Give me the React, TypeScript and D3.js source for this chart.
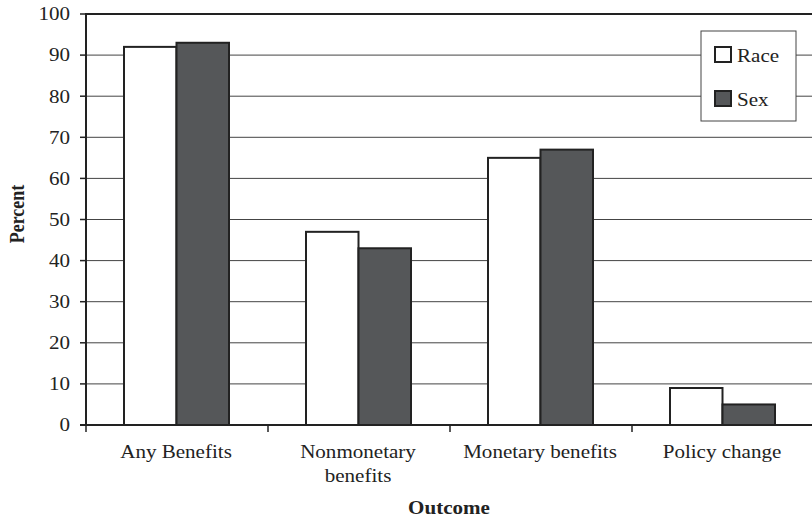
import * as d3 from "d3";

const categories = [["Any Benefits"], ["Nonmonetary", "benefits"], ["Monetary benefits"], ["Policy change"]];
const seriesNames = ["Race", "Sex"];
const raceValues = [92, 47, 65, 9];
const sexValues = [93, 43, 67, 5];
const yTicks = [0, 10, 20, 30, 40, 50, 60, 70, 80, 90, 100];

const colors = ["#ffffff", "#555759"];
const width = 812;
const height = 519;
const marginLeft = 86;
const marginTop = 14;
const plotBottom = 425;
const font = "Liberation Serif";
const fs = 18;
const sx = 1.17;

function T({ x, y, anchor = "start", bold = false, dy, children }: any) {
  return (
    <text
      transform={`translate(${x},${y}) scale(${sx},1)`}
      textAnchor={anchor}
      fontWeight={bold ? "bold" : "normal"}
      dy={dy}
    >
      {children}
    </text>
  );
}

export default function App() {
  const keys = categories.map((c) => c.join(" "));
  const x0 = d3.scaleBand().domain(keys).range([marginLeft, marginLeft + 182 * 4]);
  const x1 = d3.scaleBand().domain(seriesNames).range([38, 143]);
  const y = d3.scaleLinear().domain([0, 100]).range([plotBottom, marginTop]);
  const values = [raceValues, sexValues];

  return (
    <svg width={width} height={height} style={{ position: "absolute", left: 0, top: 0 }}>
      <rect width={width} height={height} fill="#fff" />
      {yTicks.slice(1, -1).map((t) => (
        <line key={t} x1={marginLeft} x2={width} y1={y(t)} y2={y(t)} stroke="#444" strokeWidth={1} />
      ))}
      <line x1={marginLeft} x2={width} y1={y(100)} y2={y(100)} stroke="#222" strokeWidth={2} />
      {keys.map((k, i) =>
        seriesNames.map((s, j) => (
          <rect
            key={k + s}
            x={(x0(k) ?? 0) + (x1(s) ?? 0)}
            y={y(values[j][i])}
            width={x1.bandwidth()}
            height={plotBottom - y(values[j][i])}
            fill={colors[j]}
            stroke="#222"
            strokeWidth={2}
          />
        ))
      )}
      <line x1={marginLeft} x2={marginLeft} y1={marginTop - 1} y2={plotBottom + 1} stroke="#222" strokeWidth={2} />
      <line x1={marginLeft - 6} x2={width} y1={plotBottom} y2={plotBottom} stroke="#222" strokeWidth={2} />
      <g fontFamily={font} fill="#222" fontSize={fs}>
        {yTicks.map((t) => (
          <g key={t}>
            <line x1={marginLeft - 6} x2={marginLeft} y1={y(t)} y2={y(t)} stroke="#222" strokeWidth={1.5} />
            <T x={marginLeft - 16} y={y(t)} dy="0.35em" anchor="end">
              {t}
            </T>
          </g>
        ))}
        {keys.map((k) => (
          <line key={k} x1={x0(k)} x2={x0(k)} y1={plotBottom} y2={plotBottom + 7} stroke="#222" strokeWidth={1.5} />
        ))}
        {categories.map((lines, i) =>
          lines.map((l, li) => (
            <T key={i + "-" + li} x={(x0(keys[i]) ?? 0) + x0.bandwidth() / 2 - 1} y={458 + li * 24} anchor="middle">
              {l}
            </T>
          ))
        )}
        <T x={449} y={514} anchor="middle" bold>
          Outcome
        </T>
        <text
          transform={`translate(24,214) scale(${sx},1) rotate(-90)`}
          textAnchor="middle"
          fontWeight="bold"
        >
          Percent
        </text>
        <g transform="translate(701,31)">
          <rect width={95} height={90} fill="#fff" stroke="#444" strokeWidth={1} />
          {seriesNames.map((s, j) => (
            <g key={s} transform={`translate(14,${16 + j * 44})`}>
              <rect width={16} height={15} fill={colors[j]} stroke="#222" strokeWidth={2} />
              <T x={22} y={15}>
                {s}
              </T>
            </g>
          ))}
        </g>
      </g>
    </svg>
  );
}
